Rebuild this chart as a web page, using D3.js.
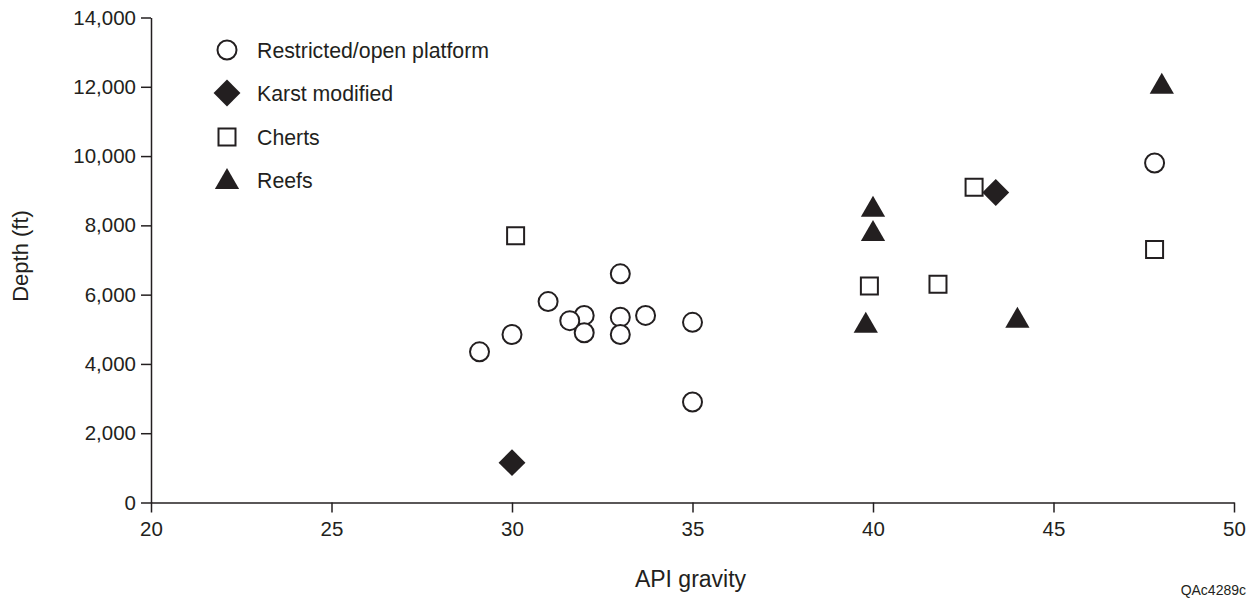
<!DOCTYPE html>
<html>
<head>
<meta charset="utf-8">
<script src="https://cdn.jsdelivr.net/npm/d3@7"></script>
<style>
  body { margin: 0; background: #fff; }
  svg { display: block; font-family: "Liberation Sans", Arial, sans-serif; }
</style>
</head>
<body>
<svg width="1253" height="599"></svg>
<script>
// values
const platformApi = [29.1, 30.0, 31.0, 32.0, 31.6, 32.0, 33.0, 33.0, 33.0, 33.7, 35.0, 35.0, 47.8];
const platformDepth = [4350, 4850, 5800, 5400, 5250, 4900, 6600, 5350, 4850, 5400, 5200, 2900, 9800];
const chertApi = [30.1, 39.9, 41.8, 42.8, 47.8];
const chertDepth = [7700, 6250, 6300, 9100, 7300];
const karstApi = [30.0, 43.4];
const karstDepth = [1150, 8950];
const reefApi = [39.8, 40.0, 40.0, 44.0, 48.0];
const reefDepth = [5100, 7750, 8450, 5250, 12000];

const xTicks = [20, 25, 30, 35, 40, 45, 50];
const yTicks = [0, 2000, 4000, 6000, 8000, 10000, 12000, 14000];
const legendLabels = ['Restricted/open platform', 'Karst modified', 'Cherts', 'Reefs'];

const ink = '#231f20';
const font = '"Liberation Sans", Arial, sans-serif';
const svg = d3.select('svg');

const x = d3.scaleLinear().domain([20, 50]).range([151, 1234]);
const y = d3.scaleLinear().domain([0, 14000]).range([502.5, 17.5]);

// marker shapes
const shapes = {
    circle: { type: d3.symbolCircle, size: Math.PI * 9.5 * 9.5, rot: 0, fill: '#fff' },
    diamond: { type: d3.symbolSquare, size: 19 * 19, rot: 45, fill: ink },
    square: { type: d3.symbolSquare, size: 17 * 17, rot: 0, fill: '#fff' },
    triangle: { type: d3.symbolTriangle, size: 49 * Math.sqrt(3) * 3, rot: 0, fill: ink }
};
const legendShapes = ['circle', 'diamond', 'square', 'triangle'];

const drawMarks = (xs, ys, key) => {
    const s = shapes[key];
    svg.append('g').selectAll('path').data(xs.map((v, i) => [v, ys[i]])).enter().append('path')
        .attr('d', d3.symbol().type(s.type).size(s.size))
        .attr('transform', d => `translate(${x(d[0])},${y(d[1])}) rotate(${s.rot})`)
        .attr('fill', s.fill)
        .attr('stroke', ink)
        .attr('stroke-width', s.fill === ink ? 0 : 2);
};

// axes
const xAxis = svg.append('g')
    .attr('transform', `translate(0,${y(0)})`)
    .call(d3.axisBottom(x).tickValues(xTicks).tickSize(10).tickPadding(9).tickSizeOuter(0));
const yAxis = svg.append('g')
    .attr('transform', `translate(${x(20)},0)`)
    .call(d3.axisLeft(y).tickValues(yTicks).tickSize(10).tickPadding(5).tickFormat(d3.format(',')).tickSizeOuter(0));

[xAxis, yAxis].forEach(a => {
    a.attr('font-family', font);
    a.select('.domain').attr('stroke', ink).attr('stroke-width', 1.5);
    a.selectAll('.tick line').attr('stroke', ink).attr('stroke-width', 1.5);
    a.selectAll('.tick text').attr('fill', ink).style('font-size', '20.5px');
});

svg.append('text')
    .attr('x', (x(20) + x(50)) / 2 - 2)
    .attr('y', 587)
    .attr('text-anchor', 'middle')
    .attr('fill', ink)
    .style('font-size', '23px')
    .text('API gravity');

svg.append('text')
    .attr('transform', `translate(28,${(y(0) + y(14000)) / 2 - 4}) rotate(-90)`)
    .attr('text-anchor', 'middle')
    .attr('fill', ink)
    .style('font-size', '22px')
    .text('Depth (ft)');

svg.append('text')
    .attr('x', 1246)
    .attr('y', 595)
    .attr('text-anchor', 'end')
    .attr('fill', ink)
    .style('font-size', '14px')
    .text('QAc4289c');

// points
drawMarks(platformApi, platformDepth, 'circle');
drawMarks(chertApi, chertDepth, 'square');
drawMarks(reefApi, reefDepth, 'triangle');
drawMarks(karstApi, karstDepth, 'diamond');

// legend
const legend = svg.append('g').selectAll('g').data(legendLabels).enter().append('g')
    .attr('transform', (d, i) => `translate(227,${[50, 93, 137, 180][i]})`);
legend.append('path')
    .attr('d', (d, i) => d3.symbol().type(shapes[legendShapes[i]].type).size(shapes[legendShapes[i]].size)())
    .attr('transform', (d, i) => `rotate(${shapes[legendShapes[i]].rot})` + (legendShapes[i] === 'triangle' ? ' translate(0,2)' : ''))
    .attr('fill', (d, i) => shapes[legendShapes[i]].fill)
    .attr('stroke', ink)
    .attr('stroke-width', (d, i) => shapes[legendShapes[i]].fill === ink ? 0 : 2);
legend.append('text')
    .attr('x', 30)
    .attr('dy', '0.36em')
    .attr('fill', ink)
    .style('font-size', '21.3px')
    .text(d => d);
</script>
</body>
</html>
